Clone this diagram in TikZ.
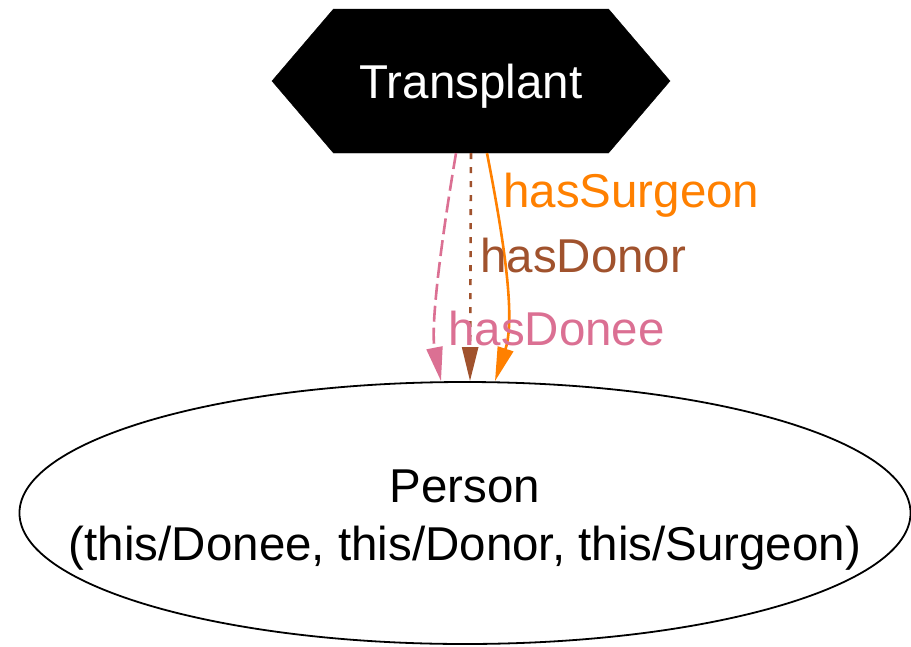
\documentclass[tikz,border=0pt]{standalone}
\usepackage{fontspec}
\setmainfont{Liberation Sans}
\usepackage{tikz}
\usetikzlibrary{shapes.geometric,shapes.symbols,arrows.meta,positioning}

\definecolor{donee}{RGB}{219,112,147}
\definecolor{donor}{RGB}{160,82,45}
\definecolor{surgeon}{RGB}{255,128,0}

\begin{document}
\begin{tikzpicture}[x=1pt, y=-1pt,
  hexa/.style={signal, signal to=east and west, signal pointer angle=99, fill=black, text=white, draw=black, font=\fontsize{47.5}{58}\selectfont, minimum width=398pt, minimum height=144pt, inner sep=0pt},
  cls/.style={ellipse, draw, line width=1.8pt, font=\fontsize{47.5}{58}\selectfont, minimum height=262pt, inner xsep=-81pt, inner ysep=0pt, align=center},
  rel/.style={-{Triangle[length=34pt, width=16pt]}, line width=2.6pt},
  lbl/.style={font=\fontsize{47.5}{58}\selectfont, anchor=base west, inner sep=0pt}
]
\useasboundingbox (0,0) rectangle (911,646);

% Nodes
\node[hexa] (tr) at (471, 81) {\rule{0pt}{45pt}Transplant};
\node[cls] (ps) at (465, 513) {\rule{0pt}{46pt}Person\\(this/Donee, this/Donor, this/Surgeon)};

% Edges
\draw[rel, donee, dash pattern=on 16pt off 6pt] ([xshift=-15pt]tr.south) .. controls (438,260) and (431,330) .. ([xshift=-24pt]ps.north);
\draw[rel, donor, dash pattern=on 6pt off 8pt] (tr.south) -- ([xshift=5pt]ps.north);
\draw[rel, surgeon] ([xshift=16pt]tr.south) .. controls (506,250) and (515,320) .. ([xshift=30pt]ps.north);

% Labels
\node[lbl, text=surgeon] (lsu) at (503, 207) {hasSurgeon};
\node[lbl, text=donor] (ldo) at (480, 272) {hasDonor};
\node[lbl, text=donee] (lde) at (448, 345) {hasDonee};
\end{tikzpicture}
\end{document}
